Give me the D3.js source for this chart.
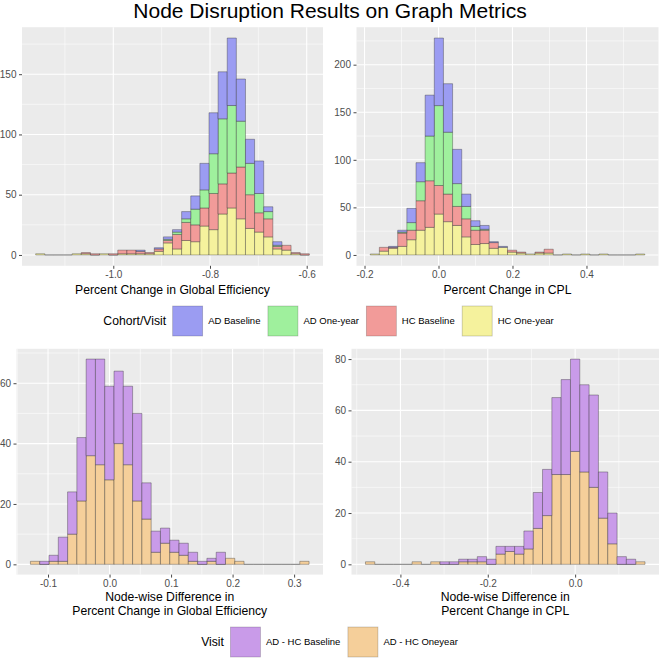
<!DOCTYPE html>
<html>
<head>
<meta charset="utf-8">
<script src="https://cdn.jsdelivr.net/npm/d3@7"></script>
<style>
  body { margin: 0; background: #ffffff; }
  svg text { font-family: "Liberation Sans", Arial, Helvetica, sans-serif; }
</style>
</head>
<body>
<svg id="chart" width="659" height="661"></svg>
<script>
// ---------------- DATA ----------------
const chartTitle = "Node Disruption Results on Graph Metrics";

// Top-left: Percent change in Global Efficiency (30 bins)
const geBinStart = -1.1605, geBinWidth = 0.018864;
const geHCOneYear  = [1,0,0,0,1,1,0,1,0,1,1,1,1,3,10,5,12,11,24,21,34,39,30,22,19,15,5,4,1,0];
const geHCBaseline = [0,0,0,0,0,1,1,0,1,3,3,2,1,2,2,12,15,14,15,30,25,29,43,28,16,15,2,4,1,1];
const geADOneYear  = [0,0,0,0,0,0,0,0,0,0,0,0,0,0,1,2,3,13,15,33,54,56,38,26,16,6,1,0,0,0];
const geADBaseline = [0,0,0,0,0,0,0,0,0,0,0,1,0,1,2,2,6,11,22,34,39,56,35,20,27,4,3,0,0,0];
const geXTicks = [-1.0, -0.8, -0.6];
const geXTickLabels = ["-1.0", "-0.8", "-0.6"];
const geYTicks = [0, 50, 100, 150];
const geXTitle = ["Percent Change in Global Efficiency"];

// Top-right: Percent change in CPL (30 bins)
const cplBinStart = -0.1846, cplBinWidth = 0.02474;
const cplHCOneYear  = [1,4,7,9,16,26,29,43,35,31,19,11,12,7,8,3,2,1,2,2,0,1,0,1,0,1,0,0,0,1];
const cplHCBaseline = [0,4,1,14,10,31,49,30,29,20,19,15,14,6,0,2,1,0,1,4,0,0,0,0,0,0,0,0,0,0];
const cplADOneYear  = [0,0,0,1,8,20,47,84,65,24,13,4,1,0,0,0,0,0,0,0,0,0,0,0,0,0,0,0,0,0];
const cplADBaseline = [0,0,1,2,15,20,43,71,51,36,13,6,4,1,1,0,0,0,0,0,0,0,0,0,0,0,0,0,0,0];
const cplXTicks = [-0.2, 0.0, 0.2, 0.4];
const cplXTickLabels = ["-0.2", "0.0", "0.2", "0.4"];
const cplYTicks = [0, 50, 100, 150, 200];
const cplXTitle = ["Percent Change in CPL"];

// Bottom-left: node-wise difference in percent change in Global Efficiency
const dGeBinStart = -0.1286, dGeBinWidth = 0.015097;
const dGeOneyear  = [1,0,1,1,10,21,36,33,28,40,33,21,15,4,7,4,3,1,0,1,0,2,1,0,0,0,0,0,0,1];
const dGeBaseline = [0,1,2,8,14,21,32,35,31,24,26,29,12,7,5,4,4,3,1,1,4,0,0,0,0,0,0,0,0,0];
const dGeXTicks = [-0.1, 0.0, 0.1, 0.2, 0.3];
const dGeXTickLabels = ["-0.1", "0.0", "0.1", "0.2", "0.3"];
const dGeYTicks = [0, 20, 40, 60];
const dGeXTitle = ["Node-wise Difference in", "Percent Change in Global Efficiency"];

// Bottom-right: node-wise difference in percent change in CPL
const dCplBinStart = -0.48, dCplBinWidth = 0.021333;
const dCplOneyear  = [1,0,0,0,0,1,0,1,0,0,1,1,1,0,4,5,4,6,14,19,35,35,44,36,30,18,8,0,0,1];
const dCplBaseline = [0,0,0,0,0,0,0,0,1,1,1,1,2,2,3,2,3,7,14,18,30,37,36,34,36,18,12,3,2,0];
const dCplXTicks = [-0.4, -0.2, 0.0];
const dCplXTickLabels = ["-0.4", "-0.2", "0.0"];
const dCplYTicks = [0, 20, 40, 60, 80];
const dCplXTitle = ["Node-wise Difference in", "Percent Change in CPL"];

// Legends
const cohortTitle = "Cohort/Visit";
const cohortLabels = ["AD Baseline", "AD One-year", "HC Baseline", "HC One-year"];
const visitTitle = "Visit";
const visitLabels = ["AD - HC Baseline", "AD - HC Oneyear"];

// ---------------- STYLE ----------------
const cohortColors = {
  "AD Baseline": "#9b9cf2",
  "AD One-year": "#9ff09d",
  "HC Baseline": "#f29b99",
  "HC One-year": "#f5f29d"
};
const visitColors = {
  "AD - HC Baseline": "#c99be9",
  "AD - HC Oneyear": "#f5cf9a"
};
const panelBg = "#EBEBEB";
const barStroke = "rgba(40,40,40,0.6)";

const svg = d3.select("#chart");
svg.append("rect").attr("width", 659).attr("height", 661).attr("fill", "#fff");

svg.append("text")
  .attr("x", 330).attr("y", 18)
  .attr("text-anchor", "middle")
  .attr("font-size", 21)
  .attr("fill", "#000")
  .text(chartTitle);

function minorBreaks(major, domain) {
  const step = major[1] - major[0];
  const out = [];
  for (let v = major[0] - step / 2; v <= domain[1] + 1e-9; v += step) {
    if (v >= domain[0] - 1e-9 && v <= domain[1] + 1e-9) out.push(v);
  }
  return out;
}

function drawPanel(cfg) {
  const n = cfg.series[0].values.length;
  const binEnd = cfg.binStart + n * cfg.binWidth;
  const xr = binEnd - cfg.binStart;
  const xDomain = [cfg.binStart - 0.05 * xr, binEnd + 0.05 * xr];

  const rows = d3.range(n).map(i => {
    const r = { i: i };
    cfg.series.forEach(s => { r[s.name] = s.values[i]; });
    return r;
  });
  const stack = d3.stack().keys(cfg.series.map(s => s.name));
  const stacked = stack(rows);
  const maxY = d3.max(stacked[stacked.length - 1], d => d[1]);
  const yDomain = [-0.05 * maxY, 1.05 * maxY];

  const x = d3.scaleLinear().domain(xDomain).range([cfg.left, cfg.right]);
  const y = d3.scaleLinear().domain(yDomain).range([cfg.bottom, cfg.top]);

  const g = svg.append("g");
  g.append("rect")
    .attr("x", cfg.left).attr("y", cfg.top)
    .attr("width", cfg.right - cfg.left).attr("height", cfg.bottom - cfg.top)
    .attr("fill", panelBg);

  const xMinor = minorBreaks(cfg.xTicks, xDomain);
  const yMinor = minorBreaks(cfg.yTicks, yDomain);
  g.selectAll(".xminor").data(xMinor).enter().append("line")
    .attr("x1", d => x(d)).attr("x2", d => x(d))
    .attr("y1", cfg.top).attr("y2", cfg.bottom)
    .attr("stroke", "#fff").attr("stroke-width", 0.55);
  g.selectAll(".yminor").data(yMinor).enter().append("line")
    .attr("y1", d => y(d)).attr("y2", d => y(d))
    .attr("x1", cfg.left).attr("x2", cfg.right)
    .attr("stroke", "#fff").attr("stroke-width", 0.55);
  g.selectAll(".xmajor").data(cfg.xTicks).enter().append("line")
    .attr("x1", d => x(d)).attr("x2", d => x(d))
    .attr("y1", cfg.top).attr("y2", cfg.bottom)
    .attr("stroke", "#fff").attr("stroke-width", 1.1);
  g.selectAll(".ymajor").data(cfg.yTicks).enter().append("line")
    .attr("y1", d => y(d)).attr("y2", d => y(d))
    .attr("x1", cfg.left).attr("x2", cfg.right)
    .attr("stroke", "#fff").attr("stroke-width", 1.1);

  // bars (zero-height segments drawn once, by the bottom layer only)
  stacked.forEach((layer, li) => {
    const color = cfg.series[li].color;
    const segs = layer.map((d, i) => ({ d: d, i: i }))
      .filter(s => (s.d[1] - s.d[0]) > 0 || (li === 0 && s.d[1] === 0));
    g.append("g").selectAll("path").data(segs).enter().append("path")
      .attr("d", s => {
        const x0 = x(cfg.binStart + s.i * cfg.binWidth);
        const x1 = x(cfg.binStart + (s.i + 1) * cfg.binWidth);
        const yb = y(s.d[0]), yt = y(s.d[1]);
        return `M${x0},${yb}H${x1}V${yt}H${x0}Z`;
      })
      .attr("fill", color)
      .attr("stroke", barStroke)
      .attr("stroke-width", 0.6);
  });

  const xAxis = d3.axisBottom(x)
    .tickValues(cfg.xTicks)
    .tickFormat((d, i) => cfg.xTickLabels[i])
    .tickSize(3).tickSizeOuter(0).tickPadding(2.5);
  const xa = svg.append("g").attr("transform", `translate(0,${cfg.bottom})`).call(xAxis);
  const yAxis = d3.axisLeft(y)
    .tickValues(cfg.yTicks)
    .tickFormat(d3.format("d"))
    .tickSize(3).tickSizeOuter(0).tickPadding(2.5);
  const ya = svg.append("g").attr("transform", `translate(${cfg.left},0)`).call(yAxis);
  [xa, ya].forEach(a => {
    a.select(".domain").remove();
    a.selectAll(".tick line").attr("stroke", "#333333").attr("stroke-width", 0.9);
    a.selectAll(".tick text")
      .attr("fill", "#4D4D4D")
      .attr("font-size", 10)
      .attr("font-family", '"Liberation Sans", Arial, Helvetica, sans-serif');
  });

  const cx = (cfg.left + cfg.right) / 2;
  cfg.xTitle.forEach((line, k) => {
    svg.append("text")
      .attr("x", cx)
      .attr("y", cfg.titleY + k * 13.6)
      .attr("text-anchor", "middle")
      .attr("font-size", 12.2)
      .attr("fill", "#000")
      .text(line);
  });
}

drawPanel({
  left: 22, right: 323, top: 27.2, bottom: 265.8,
  binStart: geBinStart, binWidth: geBinWidth,
  series: [
    { name: "HC One-year", values: geHCOneYear, color: cohortColors["HC One-year"] },
    { name: "HC Baseline", values: geHCBaseline, color: cohortColors["HC Baseline"] },
    { name: "AD One-year", values: geADOneYear, color: cohortColors["AD One-year"] },
    { name: "AD Baseline", values: geADBaseline, color: cohortColors["AD Baseline"] }
  ],
  xTicks: geXTicks, xTickLabels: geXTickLabels, yTicks: geYTicks,
  xTitle: geXTitle, titleY: 293.5
});
drawPanel({
  left: 356.5, right: 658.5, top: 27.2, bottom: 265.8,
  binStart: cplBinStart, binWidth: cplBinWidth,
  series: [
    { name: "HC One-year", values: cplHCOneYear, color: cohortColors["HC One-year"] },
    { name: "HC Baseline", values: cplHCBaseline, color: cohortColors["HC Baseline"] },
    { name: "AD One-year", values: cplADOneYear, color: cohortColors["AD One-year"] },
    { name: "AD Baseline", values: cplADBaseline, color: cohortColors["AD Baseline"] }
  ],
  xTicks: cplXTicks, xTickLabels: cplXTickLabels, yTicks: cplYTicks,
  xTitle: cplXTitle, titleY: 293.5
});
drawPanel({
  left: 16.5, right: 323, top: 348.8, bottom: 574.6,
  binStart: dGeBinStart, binWidth: dGeBinWidth,
  series: [
    { name: "AD - HC Oneyear", values: dGeOneyear, color: visitColors["AD - HC Oneyear"] },
    { name: "AD - HC Baseline", values: dGeBaseline, color: visitColors["AD - HC Baseline"] }
  ],
  xTicks: dGeXTicks, xTickLabels: dGeXTickLabels, yTicks: dGeYTicks,
  xTitle: dGeXTitle, titleY: 601
});
drawPanel({
  left: 351.5, right: 659, top: 348.8, bottom: 574.6,
  binStart: dCplBinStart, binWidth: dCplBinWidth,
  series: [
    { name: "AD - HC Oneyear", values: dCplOneyear, color: visitColors["AD - HC Oneyear"] },
    { name: "AD - HC Baseline", values: dCplBaseline, color: visitColors["AD - HC Baseline"] }
  ],
  xTicks: dCplXTicks, xTickLabels: dCplXTickLabels, yTicks: dCplYTicks,
  xTitle: dCplXTitle, titleY: 601
});

// ---------------- LEGENDS ----------------
function drawLegend(title, labels, colors, keyTop, centerX) {
  const g = svg.append("g");
  const keySize = 30, keyGap = 5.5, itemGap = 7.5, titleGap = 6.5;
  const cy = keyTop + keySize / 2;
  const t = g.append("text").attr("font-size", 12.2).attr("fill", "#000")
    .attr("y", cy + 4.2).text(title);
  const tw = t.node().getComputedTextLength();
  const items = labels.map(l => {
    const tx = g.append("text").attr("font-size", 9.5).attr("fill", "#000")
      .attr("y", cy + 3.4).text(l);
    return { label: l, node: tx, w: tx.node().getComputedTextLength() };
  });
  let total = tw + titleGap;
  items.forEach((it, k) => {
    total += keySize + keyGap + it.w + (k < items.length - 1 ? itemGap : 0);
  });
  let cur = centerX - total / 2;
  t.attr("x", cur);
  cur += tw + titleGap;
  items.forEach(it => {
    g.append("rect")
      .attr("x", cur).attr("y", keyTop)
      .attr("width", keySize).attr("height", keySize)
      .attr("fill", colors[it.label])
      .attr("stroke", "rgba(0,0,0,0.22)").attr("stroke-width", 0.8);
    cur += keySize + keyGap;
    it.node.attr("x", cur);
    cur += it.w + itemGap;
  });
}
drawLegend(cohortTitle, cohortLabels, cohortColors, 306, 328.5);
drawLegend(visitTitle, visitLabels, visitColors, 627, 329.5);
</script>
</body>
</html>
